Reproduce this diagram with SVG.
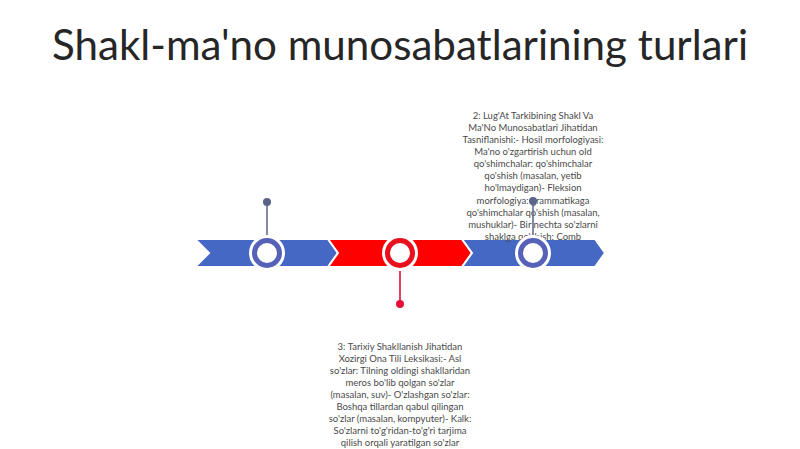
<svg xmlns="http://www.w3.org/2000/svg" width="800" height="449" viewBox="0 0 800 449">
<style>
.title{font-family:Lato,"Open Sans","Liberation Sans",sans-serif;font-size:42px;fill:#262626}
.lbl{font-family:Lato,"Open Sans","Liberation Sans",sans-serif;font-size:9.5px;fill:#4a4a4a;text-anchor:middle}
.chev{stroke:#ffffff;stroke-width:2;stroke-linejoin:miter}
.blue{fill:#4468c4}
.red{fill:#ff0000}
.halo{fill:#ffffff}
.ringb{fill:#ffffff;stroke:#5661b8;stroke-width:5}
.ringr{fill:#ffffff;stroke:#e8101c;stroke-width:5}
.pinb{stroke:#656c8c;stroke-width:1.6}
.pinr{stroke:#d8103a;stroke-width:1.6}
.dotb{fill:#5a6388}
.dotr{fill:#e8103a}
</style>
<rect width="800" height="449" fill="#ffffff"/>
<g id="title"><text class="title" x="400" y="60" text-anchor="middle" textLength="696" lengthAdjust="spacingAndGlyphs">Shakl-ma'no munosabatlarining turlari</text></g>
<g id="seg1"><polygon class="chev blue" points="195,239 328,239 338,253 328,267 195,267 209,253"/></g>
<g id="seg2"><polygon class="chev red" points="328,239 462,239 472,253 462,267 328,267 338,253"/></g>
<g id="seg3"><polygon class="chev blue" points="462,239 595,239 605,253 595,267 462,267 472,253"/></g>
<g id="label2">
<text class="lbl" x="533" y="119">2: Lug'At Tarkibining Shakl Va</text>
<text class="lbl" x="533" y="131">Ma'No Munosabatlari Jihatidan</text>
<text class="lbl" x="533" y="143">Tasniflanishi:- Hosil morfologiyasi:</text>
<text class="lbl" x="533" y="155">Ma'no o'zgartirish uchun old</text>
<text class="lbl" x="533" y="167">qo'shimchalar: qo'shimchalar</text>
<text class="lbl" x="533" y="179">qo'shish (masalan, yetib</text>
<text class="lbl" x="533" y="191">ho'lmaydigan)- Fleksion</text>
<text class="lbl" x="533" y="204">morfologiya: grammatikaga</text>
<text class="lbl" x="533" y="216">qo'shimchalar qo'shish (masalan,</text>
<text class="lbl" x="533" y="228">mushuklar)- Bir nechta so'zlarni</text>
<text class="lbl" x="533" y="240">shaklga qo'shish: Comb</text>
</g>
<g id="label3">
<text class="lbl" x="400" y="350">3: Tarixiy Shakllanish Jihatidan</text>
<text class="lbl" x="400" y="362">Xozirgi Ona Tili Leksikasi:- Asl</text>
<text class="lbl" x="400" y="374">so'zlar: Tilning oldingi shakllaridan</text>
<text class="lbl" x="400" y="386">meros bo'lib qolgan so'zlar</text>
<text class="lbl" x="400" y="398">(masalan, suv)- O'zlashgan so'zlar:</text>
<text class="lbl" x="400" y="410">Boshqa tillardan qabul qilingan</text>
<text class="lbl" x="400" y="422">so'zlar (masalan, kompyuter)- Kalk:</text>
<text class="lbl" x="400" y="434">So'zlarni to'g'ridan-to'g'ri tarjima</text>
<text class="lbl" x="400" y="446">qilish orqali yaratilgan so'zlar</text>
</g>
<g id="connectors">
<line class="pinb" x1="267" y1="202" x2="267" y2="238"/>
<circle class="dotb" cx="267" cy="202" r="4"/>
<line class="pinr" x1="400" y1="304" x2="400" y2="268"/>
<circle class="dotr" cx="400" cy="304" r="4"/>
<line class="pinb" x1="533" y1="201" x2="533" y2="238"/>
<circle class="dotb" cx="533" cy="201" r="4"/>
</g>
<g id="m1"><circle class="halo" cx="267" cy="253" r="18"/><circle class="ringb" cx="267" cy="253" r="12.5"/></g>
<g id="m2"><circle class="halo" cx="400" cy="253" r="18"/><circle class="ringr" cx="400" cy="253" r="12.5"/></g>
<g id="m3"><circle class="halo" cx="533" cy="253" r="18"/><circle class="ringb" cx="533" cy="253" r="12.5"/></g>
</svg>
